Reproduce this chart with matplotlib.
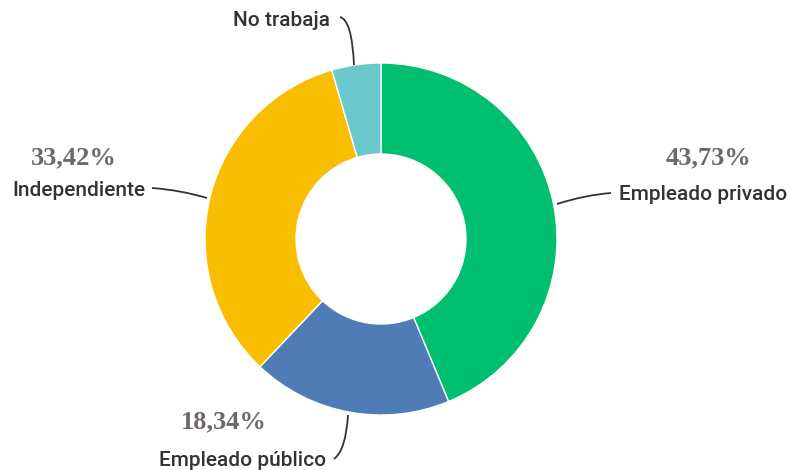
import matplotlib
matplotlib.use("Agg")
import matplotlib.pyplot as plt
from matplotlib.path import Path
from matplotlib.patches import PathPatch

categories = ["Empleado privado", "Empleado público", "Independiente", "No trabaja"]
values = [43.73, 18.34, 33.42, 4.51]
pct_labels = ["43,73%", "18,34%", "33,42%", ""]
colors = ["#00BF6F", "#507CB6", "#F9BE00", "#6BC8CD"]

W, H = 790, 470
fig = plt.figure(figsize=(7.9, 4.7), dpi=100)
ax = fig.add_axes([0, 0, 1, 1])

def Y(y):
    return H - y

cx, cy, R, r = 381, 239, 176, 85
ax.pie(values, colors=colors, startangle=90, counterclock=False,
       center=(cx, Y(cy)), radius=R, frame=True,
       wedgeprops=dict(width=R - r, edgecolor="white", linewidth=1))
ax.set_xlim(0, W)
ax.set_ylim(0, H)
ax.set_aspect("equal")
ax.axis("off")

lab_font = dict(family="Roboto", fontsize=15, color="#333333", fontweight="medium")
pct_font = dict(family="Liberation Serif", fontsize=19, color="#6E6868", fontweight="bold")

def curve(p0, c, p1):
    pts = [(p0[0], Y(p0[1])), (c[0], Y(c[1])), (p1[0], Y(p1[1]))]
    path = Path(pts, [Path.MOVETO, Path.CURVE3, Path.CURVE3])
    ax.add_patch(PathPatch(path, fill=False, lw=1.3, color="#333333"))

# Empleado privado
curve((557, 204), (585, 195), (611, 193))
ax.text(619, Y(195), categories[0], ha="left", va="center", **lab_font)
ax.text(709, Y(158), pct_labels[0], ha="center", va="center", **pct_font)

# Empleado público
curve((348, 415), (346, 450), (334, 459))
ax.text(326, Y(460), categories[1], ha="right", va="center", **lab_font)
ax.text(224, Y(422), pct_labels[1], ha="center", va="center", **pct_font)

# Independiente
curve((207, 198), (180, 190), (152, 188))
ax.text(145, Y(190), categories[2], ha="right", va="center", **lab_font)
ax.text(74, Y(158), pct_labels[2], ha="center", va="center", **pct_font)

# No trabaja
curve((354, 65), (352, 20), (340, 17))
ax.text(330, Y(21), categories[3], ha="right", va="center", **lab_font)

fig.savefig("out.png", dpi=100)
